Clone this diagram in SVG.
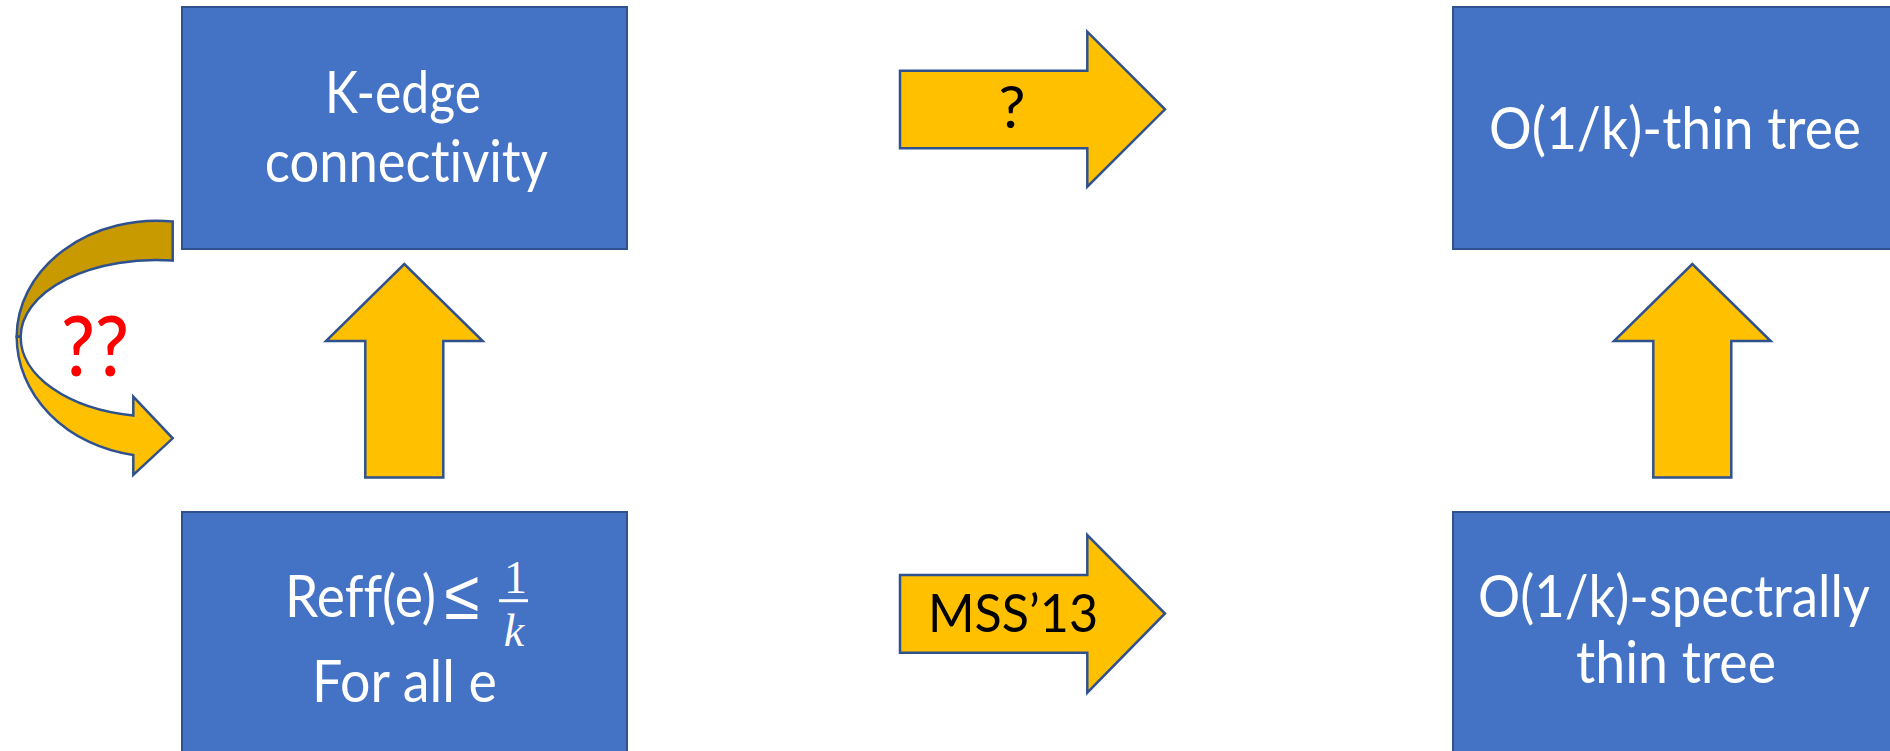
<svg xmlns="http://www.w3.org/2000/svg" width="1890" height="751" viewBox="0 0 1890 751">
<style>
text{font-variant-ligatures:none;font-feature-settings:"liga" 0,"dlig" 0,"clig" 0}
.box{fill:#4472C4;stroke:#2F528F;stroke-width:2}
.arr{fill:#FFC000;stroke:#2F528F;stroke-width:2.5;stroke-linejoin:miter}
.dark{fill:#C99A00;stroke:#2F528F;stroke-width:2.5}
.wt{fill:#FFFFFF;font-family:Lato,"Open Sans",sans-serif;font-size:58px;text-anchor:middle}
.bt{fill:#000000;font-family:Lato,"Open Sans",sans-serif;font-size:53px;text-anchor:middle}
.math{fill:#FFFFFF;font-family:"Liberation Serif",serif;font-size:46px;text-anchor:middle}
</style>
<rect width="1890" height="751" fill="#FFFFFF"/>
<g id="connectors">
  <path class="arr" d="M900,70.7 H1087.3 V31.7 L1165,109.3 L1087.3,186.7 V148.3 H900 Z"/>
  <path class="arr" d="M900,575 H1087.3 V535 L1165,613.5 L1087.3,692.7 V652.7 H900 Z"/>
  <path class="arr" d="M365.3,477.5 V341 H326 L404.3,264 L482.7,341 H443.3 V477.5 Z"/>
  <path class="arr" d="M1653.3,477.5 V341 H1614 L1692.3,264 L1770.7,341 H1731.3 V477.5 Z"/>
  <g id="curved-arrow">
    <path class="dark" d="M172.7,221.5 A140 116 0 0 0 16.7,336.7 L20.7,336.7 A135 76.7 0 0 1 172.7,260.6 Z"/>
    <path class="arr" d="M16.7,336.7 A139 120 0 0 0 133.3,455 L133.3,475 L172.7,438.3 L133.3,396.7 L133.3,415.5 A135 79.4 0 0 1 20.7,336.7 Z"/>
  </g>
  <text class="bt" x="1012" y="128" style="font-size:58px" textLength="27" lengthAdjust="spacingAndGlyphs">?</text>
  <text class="bt" x="1013" y="632" textLength="170" lengthAdjust="spacingAndGlyphs">MSS’13</text>
  <text x="95" y="376" style="fill:#FF0000;font-family:Lato,'Open Sans',sans-serif;font-size:84px;font-weight:500;text-anchor:middle" textLength="68" lengthAdjust="spacingAndGlyphs">??</text>
</g>
<g id="node-kedge">
  <rect class="box" x="182" y="7" width="445" height="242"/>
  <text class="wt" x="403" y="113" textLength="156" lengthAdjust="spacingAndGlyphs">K-edge</text>
  <text class="wt" x="406.3" y="182" textLength="283" lengthAdjust="spacingAndGlyphs">connectivity</text>
</g>
<g id="node-reff">
  <rect class="box" x="182" y="512" width="445" height="260"/>
  <text class="wt" x="360.5" y="617" textLength="151" lengthAdjust="spacingAndGlyphs">Reff(e)</text>
  <text x="462" y="619" style="fill:#FFFFFF;font-family:'Liberation Sans',sans-serif;font-size:70px;text-anchor:middle" textLength="35" lengthAdjust="spacingAndGlyphs">≤</text>
  <text class="math" x="515.5" y="593">1</text>
  <line x1="499" y1="600.7" x2="528" y2="600.7" stroke="#FFFFFF" stroke-width="3"/>
  <text class="math" x="514" y="646" style="font-style:italic">k</text>
  <text class="wt" x="404.5" y="702" textLength="185" lengthAdjust="spacingAndGlyphs">For all e</text>
</g>
<g id="node-thin">
  <rect class="box" x="1453" y="7" width="445" height="242"/>
  <text class="wt" x="1675" y="149" textLength="372" lengthAdjust="spacingAndGlyphs">O(1/k)-thin tree</text>
</g>
<g id="node-spectral">
  <rect class="box" x="1453" y="512" width="445" height="260"/>
  <text class="wt" x="1674" y="617" textLength="392" lengthAdjust="spacingAndGlyphs">O(1/k)-spectrally</text>
  <text class="wt" x="1676" y="683" textLength="200" lengthAdjust="spacingAndGlyphs">thin tree</text>
</g>
</svg>
